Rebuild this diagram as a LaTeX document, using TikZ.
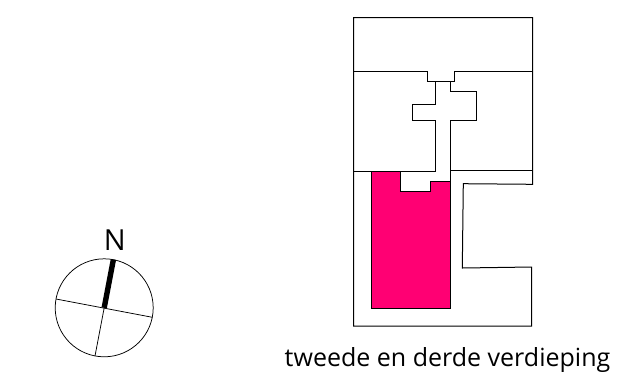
\documentclass[tikz,border=0pt]{standalone}
\usepackage{xcolor}
\usepackage{fontspec}
\setmainfont{Open Sans}
\definecolor{unit}{HTML}{FF0073}
\tikzset{
  wall/.style={draw=black, line width=1pt, line join=miter},
  unitfill/.style={fill=unit, draw=black, line width=1pt},
  dial/.style={draw=black, line width=0.75pt},
  needle/.style={draw=black, line width=5.4pt},
  lab/.style={text=black, inner sep=0pt},
}
\begin{document}
\begin{tikzpicture}[x=1pt,y=-1pt]
  \useasboundingbox (0,0) rectangle (643,376);
  % highlighted flat
  \draw[unitfill] (371,171.3)--(400.7,171.3)--(400.7,191)--(430,191)--(430,181.7)--(450,181.7)--(450,308.3)--(371,308.3)--cycle;
  % outer walls
  \draw[wall] (353.5,71.3)--(353.5,17.7)--(532.5,17.7)--(532.5,184.3)--(463.3,183.7)--(462.3,268)--(531.7,267)--(531.7,326)--(353.5,326)--(353.5,71.3);
  % floor divisions and the stair core
  \draw[wall] (353.5,71.3)--(427.7,71.3)--(427.7,81)--(454.3,81)--(454.3,71.3)--(532.5,71.3);
  \draw[wall] (435.7,81)--(435.7,104)--(412.3,104)--(412.3,120)--(435.7,120)--(435.7,171.3)--(353.5,171.3);
  \draw[wall] (450,81)--(450,91.7)--(476,91.7)--(476,120)--(450,120)--(450,181.7);
  \draw[wall] (450,170)--(532.5,170);
  % compass
  \coordinate (C) at (104.2,307.8);
  \coordinate (Ntop) at (113.4,259.5);
  \coordinate (Sbot) at (95,356);
  \coordinate (Wend) at (56,299);
  \coordinate (Eend) at (152.4,317.3);
  \draw[dial] (C) circle (49);
  \draw[dial] (C)--(Sbot);
  \draw[dial] (Wend)--(Eend);
  \draw[needle] (C)--(Ntop);
  \node[lab,font=\fontsize{29}{29}\selectfont] (north) at (114.8,240) {N};
  \node[lab,font=\fontsize{25}{25}\selectfont] (caption) at (447.5,359.5) {tweede en derde verdieping};
\end{tikzpicture}
\end{document}
